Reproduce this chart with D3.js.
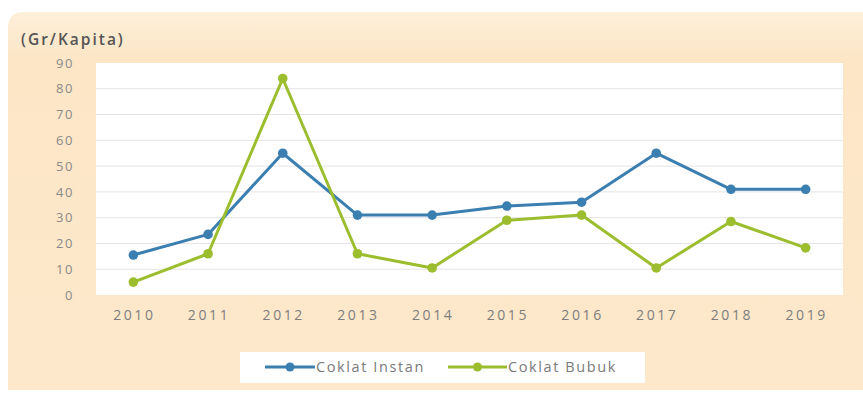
<!DOCTYPE html>
<html>
<head>
<meta charset="utf-8">
<script src="https://cdn.jsdelivr.net/npm/d3@7"></script>
<style>
  html, body { margin: 0; padding: 0; background: #ffffff; }
  svg { display: block; }
  text { font-family: "Open Sans", "Noto Sans", sans-serif; }
</style>
</head>
<body>
<svg id="chart" width="863" height="393"></svg>
<script>
// Konsumsi cokelat per kapita, 2010-2019
const years = ["2010", "2011", "2012", "2013", "2014", "2015", "2016", "2017", "2018", "2019"];
const coklatInstan = [15.5, 23.5, 55, 31, 31, 34.5, 36, 55, 41, 41];
const coklatBubuk = [5, 16, 84, 16, 10.5, 29, 31, 10.5, 28.5, 18.3];
const yTicks = [0, 10, 20, 30, 40, 50, 60, 70, 80, 90];
const seriesNames = ["Coklat Instan", "Coklat Bubuk"];
const seriesColors = ["#3b7fb1", "#9cbd2e"];
const unitLabel = "(Gr/Kapita)";

const svg = d3.select("#chart");

// Panel background with a soft top band
const defs = svg.append("defs");
const grad = defs.append("linearGradient").attr("id", "panelGrad")
  .attr("x1", 0).attr("y1", 0).attr("x2", 0).attr("y2", 1);
grad.append("stop").attr("offset", "0%").attr("stop-color", "#fdefda");
grad.append("stop").attr("offset", "12%").attr("stop-color", "#fce6c6");
grad.append("stop").attr("offset", "100%").attr("stop-color", "#fde8cb");

svg.append("path")
  .attr("d", "M8,390 L8,28 Q8,12 24,12 L863,12 L863,390 Z")
  .attr("fill", "url(#panelGrad)");

// Plot area
const plot = { left: 96, right: 843, top: 63, bottom: 295 };

svg.append("rect")
  .attr("x", plot.left).attr("y", plot.top)
  .attr("width", plot.right - plot.left).attr("height", plot.bottom - plot.top)
  .attr("fill", "#ffffff");

const x = d3.scaleBand().domain(years).range([plot.left, plot.right]).padding(0);
const y = d3.scaleLinear().domain([0, 90]).range([plot.bottom, plot.top]);
const cx = d => x(d) + x.bandwidth() / 2;

// Horizontal gridlines
svg.append("g")
  .selectAll("line")
  .data(yTicks.filter(t => t > 0 && t < 90))
  .join("line")
  .attr("x1", plot.left).attr("x2", plot.right)
  .attr("y1", d => y(d)).attr("y2", d => y(d))
  .attr("stroke", "#e4e4e8").attr("stroke-width", 1);

// Y axis labels
const yAxis = d3.axisLeft(y).tickValues(yTicks).tickSize(0).tickPadding(0);
const gy = svg.append("g").attr("transform", "translate(74,0)").call(yAxis);
gy.select(".domain").remove();
gy.selectAll("text")
  .attr("fill", "#8a8a8a")
  .attr("font-size", "13px")
  .style("letter-spacing", "1.6px");

// X axis labels
const xAxis = d3.axisBottom(x).tickSize(0).tickPadding(0);
const gx = svg.append("g").attr("transform", "translate(1,310)").call(xAxis);
gx.select(".domain").remove();
gx.selectAll("text")
  .attr("fill", "#7e7e7e")
  .attr("font-size", "14px")
  .style("letter-spacing", "2.6px");

// Unit label
svg.append("text")
  .attr("x", 21).attr("y", 45)
  .attr("fill", "#555555")
  .attr("font-size", "15.5px")
  .attr("font-weight", 600)
  .style("letter-spacing", "2px")
  .text(unitLabel);

// Series lines and markers
const line = d3.line().x((d, i) => cx(years[i])).y(d => y(d));
[coklatInstan, coklatBubuk].forEach((vals, s) => {
  svg.append("path")
    .datum(vals)
    .attr("d", line)
    .attr("fill", "none")
    .attr("stroke", seriesColors[s])
    .attr("stroke-width", 3)
    .attr("stroke-linejoin", "round");
  svg.append("g")
    .selectAll("circle")
    .data(vals)
    .join("circle")
    .attr("cx", (d, i) => cx(years[i]))
    .attr("cy", d => y(d))
    .attr("r", 4.8)
    .attr("fill", seriesColors[s]);
});

// Legend
const legend = svg.append("g");
legend.append("rect")
  .attr("x", 240).attr("y", 352).attr("width", 405).attr("height", 31)
  .attr("fill", "#ffffff");
const legendItems = [
  { x0: 265, x1: 315, tx: 316 },
  { x0: 448, x1: 507, tx: 508 }
];
legendItems.forEach((it, s) => {
  legend.append("line")
    .attr("x1", it.x0).attr("x2", it.x1)
    .attr("y1", 367).attr("y2", 367)
    .attr("stroke", seriesColors[s]).attr("stroke-width", 3);
  legend.append("circle")
    .attr("cx", (it.x0 + it.x1) / 2).attr("cy", 367).attr("r", 4.5)
    .attr("fill", seriesColors[s]);
  legend.append("text")
    .attr("x", it.tx).attr("y", 367)
    .attr("dy", "0.35em")
    .attr("fill", "#7a7a7a")
    .attr("font-size", "14.5px")
    .style("letter-spacing", "1.6px")
    .text(seriesNames[s]);
});
</script>
</body>
</html>
